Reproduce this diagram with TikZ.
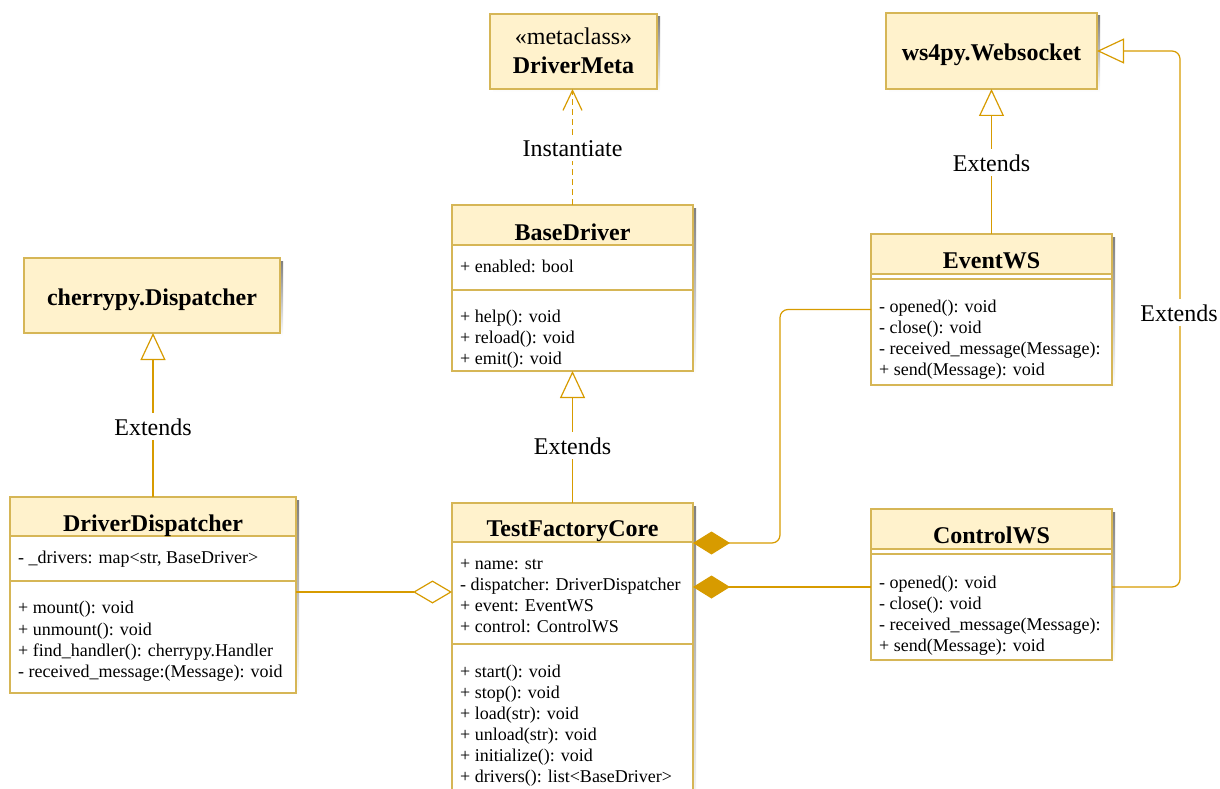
\documentclass[tikz,border=0pt]{standalone}
\usepackage{fontspec}
\setmainfont{Liberation Serif}
\usetikzlibrary{arrows.meta,calc,fit}

\definecolor{hdrfill}{HTML}{FFF2CC}
\definecolor{boxline}{HTML}{D6B656}
\definecolor{conn}{HTML}{D79B00}
\definecolor{shade}{HTML}{C4C4C4}

\tikzset{
  hdr/.style={fill=hdrfill},
  bl/.style={draw=boxline, line width=1.2pt},
  mem/.style={font=\fontsize{18}{21}\selectfont, anchor=base west, inner sep=0pt},
  ttl/.style={font=\fontsize{24}{28}\selectfont\bfseries, anchor=base, inner sep=0pt},
  stereo/.style={font=\fontsize{24}{28}\selectfont, anchor=base, inner sep=0pt},
  lbl/.style={font=\fontsize{24}{28}\selectfont, anchor=base, fill=white, inner xsep=2pt, inner ysep=5pt},
  wire/.style={draw=conn, line width=1.2pt},
  gen/.style={wire, -{Triangle[length=27pt,width=25pt,fill=white]}},
  dep/.style={wire, dash pattern=on 6pt off 4pt, -{Straight Barb[length=20pt,width=19pt]}},
  comp/.style={wire, {Diamond[length=37pt,width=23pt,fill=conn]}-},
  agg/.style={wire, {Diamond[length=39pt,width=23pt,fill=white]}-},
}

% class box with header and two compartments: name, x1, y1, x2, y2, header bottom, divider
\newcommand\umlclass[7]{%
  \fill[shade] (#2+3,#3+3) rectangle (#4+3,#5+3);
  \fill[white] (#2,#3) rectangle (#4,#5);
  \fill[hdr] (#2,#3) rectangle (#4,#6);
  \draw[bl] (#2,#6) -- (#4,#6);
  \draw[bl] (#2,#7) -- (#4,#7);
  \draw[bl] (#2,#3) rectangle (#4,#5);
  \path (#2,#3) coordinate (#1-nw) (#4,#5) coordinate (#1-se);
  \node[fit=(#1-nw)(#1-se), inner sep=0pt, outer sep=0pt] (#1) {};
}
% plain class box: name, x1, y1, x2, y2
\newcommand\umlplain[5]{%
  \fill[shade] (#2+3,#3+3) rectangle (#4+3,#5+3);
  \fill[hdr] (#2,#3) rectangle (#4,#5);
  \draw[bl] (#2,#3) rectangle (#4,#5);
  \path (#2,#3) coordinate (#1-nw) (#4,#5) coordinate (#1-se);
  \node[fit=(#1-nw)(#1-se), inner sep=0pt, outer sep=0pt] (#1) {};
}

\begin{document}
\begin{tikzpicture}[x=1pt,y=-1pt]
\useasboundingbox (0,0) rectangle (1220,789);
\clip (0,0) rectangle (1220,789);

% ---------- classes ----------
\umlplain{meta}{490}{14}{657}{89}
\node[stereo] at (573.5,45) {«metaclass»};
\node[ttl] at (573.5,74) {DriverMeta};

\umlplain{ws}{886}{13}{1097}{89}
\node[ttl] at (991.5,61) {ws4py.Websocket};

\umlplain{cp}{24}{258}{280}{333}
\node[ttl] at (152,305) {cherrypy.Dispatcher};

\umlclass{bd}{452}{205}{693}{371}{245}{290}
\node[ttl] at (572.5,240) {BaseDriver};
\node[mem] at (460,272) {+ enabled: bool};
\node[mem] at (460,322) {+ help(): void};
\node[mem] at (460,343) {+ reload(): void};
\node[mem] at (460,364) {+ emit(): void};

\umlclass{evt}{871}{234}{1112}{385}{274}{279}
\node[ttl] at (991.5,268) {EventWS};
\node[mem] at (879,312) {- opened(): void};
\node[mem] at (879,333) {- close(): void};
\node[mem] at (879,354) {- received\_message(Message):};
\node[mem] at (879,375) {+ send(Message): void};

\umlclass{cws}{871}{509}{1112}{660}{549}{554}
\node[ttl] at (991.5,543) {ControlWS};
\node[mem] at (879,588) {- opened(): void};
\node[mem] at (879,609) {- close(): void};
\node[mem] at (879,630) {- received\_message(Message):};
\node[mem] at (879,651) {+ send(Message): void};

\umlclass{tfc}{452}{503}{693}{820}{542}{644}
\node[ttl] at (572.5,536) {TestFactoryCore};
\node[mem] at (460,569) {+ name: str};
\node[mem] at (460,590) {- dispatcher: DriverDispatcher};
\node[mem] at (460,611) {+ event: EventWS};
\node[mem] at (460,632) {+ control: ControlWS};
\node[mem] at (460,677) {+ start(): void};
\node[mem] at (460,698) {+ stop(): void};
\node[mem] at (460,719) {+ load(str): void};
\node[mem] at (460,740) {+ unload(str): void};
\node[mem] at (460,761) {+ initialize(): void};
\node[mem] at (460,782) {+ drivers(): list<BaseDriver>};

\umlclass{dd}{10}{497}{296}{693}{536}{581}
\node[ttl] at (153,531) {DriverDispatcher};
\node[mem] at (18,563) {- \_drivers: map<str, BaseDriver>};
\node[mem] at (18,613) {+ mount(): void};
\node[mem] at (18,635) {+ unmount(): void};
\node[mem] at (18,656) {+ find\_handler(): cherrypy.Handler};
\node[mem] at (18,677) {- received\_message:(Message): void};

% ---------- routing points ----------
\coordinate (evtbend) at (780,543);
\coordinate (cwsrow) at (0,587);
\coordinate (ddrow) at (0,592);
\coordinate (wsrail) at (1180,321);

% ---------- connectors ----------
\draw[dep] (bd.north) -- (bd.north |- meta.south);
\node[lbl] at (572.5,156) {Instantiate};

\draw[gen] (tfc.north) -- (tfc.north |- bd.south);
\node[lbl] at (572.5,454) {Extends};

\draw[gen] (dd.north) -- (dd.north |- cp.south);
\node[lbl] at (153,435) {Extends};

\draw[gen] (evt.north) -- (evt.north |- ws.south);
\node[lbl] at (991.5,171) {Extends};

\draw[gen, rounded corners=8pt] (cws.east |- cwsrow) -| (wsrail) |- (ws.east);
\node[lbl] at (1179,321) {Extends};

\draw[comp, rounded corners=8pt] (tfc.east |- evtbend) -- (evtbend) |- (evt.west);
\draw[comp] (tfc.east |- cwsrow) -- (cws.west |- cwsrow);
\draw[agg] (tfc.west |- ddrow) -- (dd.east |- ddrow);
\end{tikzpicture}
\end{document}
